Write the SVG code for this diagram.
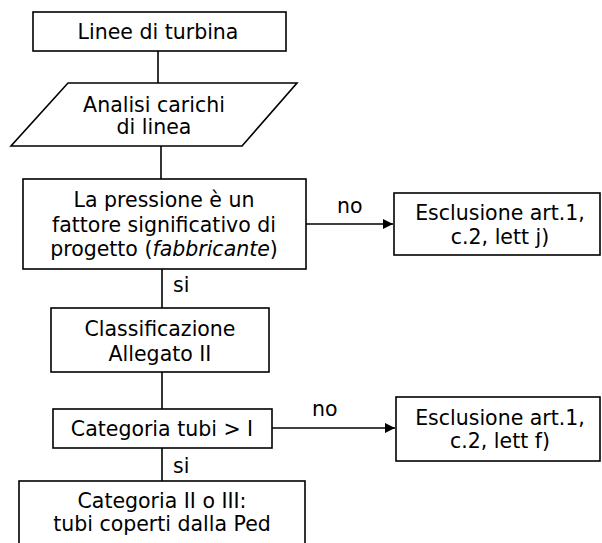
<svg xmlns="http://www.w3.org/2000/svg" width="602" height="543" viewBox="0 0 602 543">
  <defs>
    <marker id="arrow" markerWidth="10" markerHeight="10" refX="10" refY="5" orient="auto" markerUnits="userSpaceOnUse">
      <path d="M0,0 L10,5 L0,10 Z" fill="#000"/>
    </marker>
    <style>
      .box { fill: #fff; stroke: #000; stroke-width: 1.6; }
      .lbl { font-family: "DejaVu Sans", Verdana, sans-serif; font-size: 20.5px; fill: #000; text-anchor: middle; }
      .edge { fill: none; stroke: #000; stroke-width: 1.6; }
      .tag { font-family: "DejaVu Sans", Verdana, sans-serif; font-size: 20.5px; fill: #000; }
    </style>
  </defs>
  <rect width="602" height="543" fill="#fff"/>

  <!-- connectors -->
  <g id="connectors">
    <line class="edge" x1="158" y1="51" x2="158" y2="83"/>
    <line class="edge" x1="161" y1="146" x2="161" y2="179"/>
    <line class="edge" x1="162" y1="269" x2="162" y2="308"/>
    <line class="edge" x1="306" y1="224" x2="393" y2="224" marker-end="url(#arrow)"/>
    <line class="edge" x1="162" y1="372" x2="162" y2="409"/>
    <line class="edge" x1="272" y1="428" x2="395" y2="428" marker-end="url(#arrow)"/>
    <line class="edge" x1="162" y1="445" x2="162" y2="481"/>
    <text class="tag" x="337" y="213">no</text>
    <text class="tag" x="173" y="292">si</text>
    <text class="tag" x="312" y="416">no</text>
    <text class="tag" x="173" y="473">si</text>
  </g>

  <!-- start -->
  <g id="linee-turbina">
    <rect class="box" x="33" y="12" width="253" height="39"/>
    <text class="lbl" x="158" y="39">Linee di turbina</text>
  </g>

  <!-- input -->
  <g id="analisi-carichi">
    <polygon class="box" points="68,83 297,83 242,146 11,146"/>
    <text class="lbl" x="154" y="112">Analisi carichi</text>
    <text class="lbl" x="154" y="134">di linea</text>
  </g>

  <!-- decision: pressure significant -->
  <g id="pressione">
    <rect class="box" x="23" y="179" width="283" height="90"/>
    <text class="lbl" x="164" y="207">La pressione è un</text>
    <text class="lbl" x="164" y="232">fattore significativo di</text>
    <text class="lbl" x="164" y="256">progetto (<tspan font-style="italic">fabbricante</tspan>)</text>
  </g>

  <g id="esclusione-j">
    <rect class="box" x="394" y="193" width="206" height="62"/>
    <text class="lbl" x="500" y="220">Esclusione art.1,</text>
    <text class="lbl" x="500" y="244">c.2, lett j)</text>
  </g>

  <g id="classificazione">
    <rect class="box" x="51" y="308" width="218" height="64"/>
    <text class="lbl" x="160" y="336">Classificazione</text>
    <text class="lbl" x="160" y="361">Allegato II</text>
  </g>

  <g id="categoria">
    <rect class="box" x="53" y="409" width="219" height="39"/>
    <text class="lbl" x="162" y="436">Categoria tubi &gt; I</text>
  </g>

  <g id="esclusione-f">
    <rect class="box" x="396" y="397" width="204" height="64"/>
    <text class="lbl" x="500" y="425">Esclusione art.1,</text>
    <text class="lbl" x="500" y="448">c.2, lett f)</text>
  </g>

  <g id="ped">
    <rect class="box" x="19" y="481" width="286" height="80"/>
    <text class="lbl" x="162" y="508">Categoria II o III:</text>
    <text class="lbl" x="162" y="531">tubi coperti dalla Ped</text>
  </g>
</svg>
